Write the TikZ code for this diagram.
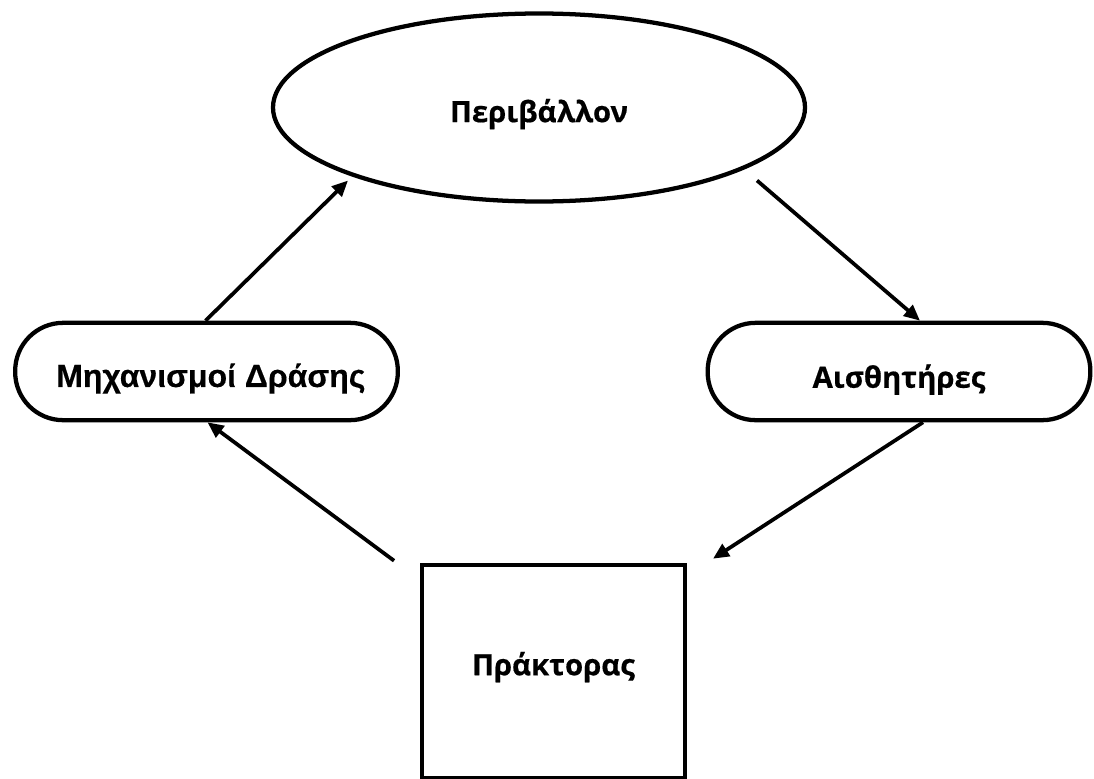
\documentclass[tikz,border=0pt]{standalone}
\usepackage{fontspec}
\setmainfont{Liberation Sans}
\newfontfamily\osans{Open Sans}[FakeBold=0.5]
\newfontfamily\lsans{Liberation Sans}[FakeBold=0.3]
\usetikzlibrary{shapes.geometric,arrows.meta,calc}
\newcommand\basetxt[2]{\raisebox{-#1}[0pt][0pt]{#2}}
\tikzset{
  shapeline/.style={draw=black,line width=3.2pt,fill=white,inner sep=0pt},
  envline/.style={draw=black,line width=3.2pt,fill=white},
  pillnode/.style={shapeline,rectangle,rounded corners=36pt,minimum width=287pt,minimum height=73pt},
  agentnode/.style={shapeline,rectangle,minimum width=197pt,minimum height=160pt},
  tahtext/.style={font=\osans\bfseries\fontsize{22pt}{26pt}\selectfont},
  arialtext/.style={font=\lsans\bfseries\fontsize{24pt}{28pt}\selectfont},
  conn/.style={line width=2.8pt,-{Triangle[length=12pt,width=10.5pt]}},
}
\begin{document}
\begin{tikzpicture}[x=0.75pt,y=-0.75pt]
\useasboundingbox[fill=white] (0,0) rectangle (1094,778);
\coordinate (envc) at (539,107.5);
\draw[envline] (envc) ellipse [x radius=199.5pt, y radius=70.5pt];
\node[tahtext,inner sep=0pt] (env) at (envc) {\basetxt{11pt}{Περιβάλλον}};
\node[pillnode,arialtext] (mech) at (206.5,371.5) {\hspace*{6.5pt}\basetxt{11.6pt}{Μηχανισμοί Δράσης}};
\node[pillnode,tahtext] (sens) at (899,371.5) {\basetxt{12.2pt}{Αισθητήρες}};
\node[agentnode,tahtext] (agent) at (553.5,671.5) {\basetxt{2.8pt}{Πράκτορας}};
\draw[conn] ($(mech.north)+(-1,0)$) -- ($(envc)+(-191,73)$);
\draw[conn] ($(envc)+(218,73)$) -- ($(sens.north)+(21,0)$);
\draw[conn] ($(sens.south)+(24,0)$) -- ($(agent.north east)+(26,-4)$);
\draw[conn] ($(agent.north west)+(-26,-2)$) -- ($(mech.south)+(1,0)$);
\end{tikzpicture}
\end{document}
